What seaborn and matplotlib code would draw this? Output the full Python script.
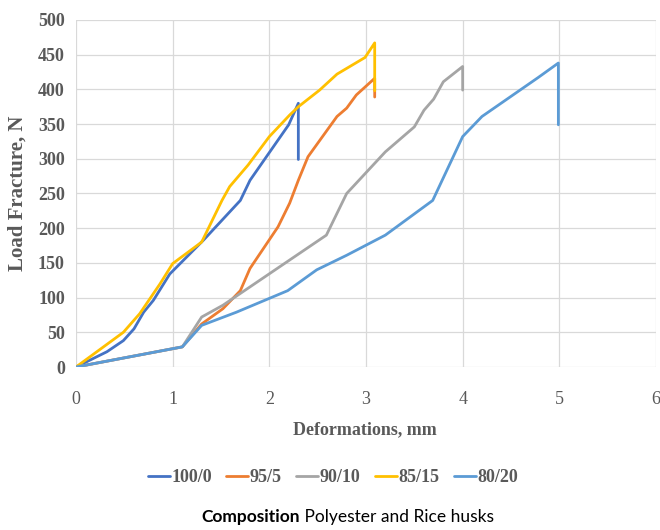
import matplotlib
matplotlib.use("Agg")
import matplotlib.pyplot as plt
import seaborn as sns
import pandas as pd
from matplotlib.lines import Line2D

# ---- data ----
series_names = ["100/0", "95/5", "90/10", "85/15", "80/20"]
colors = ["#4472C4", "#ED7D31", "#A5A5A5", "#FFC000", "#5B9BD5"]

x_100_0 = [0, 0.32, 0.49, 0.6, 0.7, 0.8, 0.97, 1.32, 1.7, 1.8, 2.2, 2.3, 2.3]
y_100_0 = [0, 22, 38, 55, 79, 96, 134, 183, 240, 269, 349, 380, 299]

x_95_5 = [0, 1.1, 1.3, 1.52, 1.7, 1.8, 2.09, 2.21, 2.3, 2.4, 2.7, 2.8, 2.9, 3.09, 3.09]
y_95_5 = [0, 29, 62, 84, 110, 142, 202, 236, 269, 303, 361, 373, 392, 416, 389]

x_90_10 = [0, 1.1, 1.3, 1.52, 2.59, 2.8, 3.2, 3.5, 3.6, 3.7, 3.8, 4.0, 4.0]
y_90_10 = [0, 29, 72, 89, 190, 250, 310, 346, 370, 386, 411, 433, 399]

x_85_15 = [0, 0.49, 0.66, 0.87, 1.0, 1.3, 1.51, 1.59, 1.78, 2.0, 2.21, 2.3, 2.52, 2.7, 2.99, 3.09, 3.09]
y_85_15 = [0, 50, 77, 120, 149, 180, 240, 260, 291, 332, 363, 375, 399, 422, 446, 467, 398]

x_80_20 = [0, 1.1, 1.3, 1.66, 2.19, 2.49, 2.8, 3.2, 3.69, 4.0, 4.2, 4.78, 4.99, 4.99]
y_80_20 = [0, 29, 60, 79, 110, 140, 161, 190, 240, 332, 361, 417, 438, 349]

x_ticks = [0, 1, 2, 3, 4, 5, 6]
y_ticks = [0, 50, 100, 150, 200, 250, 300, 350, 400, 450, 500]

xs = [x_100_0, x_95_5, x_90_10, x_85_15, x_80_20]
ys = [y_100_0, y_95_5, y_90_10, y_85_15, y_80_20]

rows = []
for name, xv, yv in zip(series_names, xs, ys):
    for i, (a, b) in enumerate(zip(xv, yv)):
        rows.append({"series": name, "order": i, "x": a, "y": b})
df = pd.DataFrame(rows)

# ---- style ----
sns.set_theme(style="white")
plt.rcParams["font.family"] = ["Liberation Serif", "DejaVu Serif"]
text_gray = "#595959"

fig = plt.figure(figsize=(6.6, 5.3), dpi=100)
ax = fig.add_axes([76 / 660, 1 - 367 / 530, (656 - 76) / 660, (367 - 20) / 530])

sns.lineplot(data=df, x="x", y="y", hue="series", hue_order=series_names,
             palette=colors, sort=False, estimator=None,
             linewidth=2.0, ax=ax, legend=False)

ax.set_xlim(0, 6)
ax.set_ylim(0, 500)
ax.set_xticks(x_ticks)
ax.set_yticks(y_ticks)
ax.grid(True, color="#D9D9D9", linewidth=0.9)
ax.set_axisbelow(True)
for s in ax.spines.values():
    s.set_visible(False)
ax.tick_params(axis="both", length=0)
ax.tick_params(axis="x", pad=17, labelsize=13, labelcolor=text_gray)
ax.tick_params(axis="y", pad=8, labelsize=13, labelcolor=text_gray)
for lbl in ax.get_yticklabels():
    lbl.set_fontweight("bold")

ax.set_xlabel("Deformations, mm", fontsize=13, fontweight="bold", color=text_gray)
ax.set_ylabel("Load Fracture, N", fontsize=15, fontweight="bold", color=text_gray)
ax.xaxis.set_label_coords((365 - 76) / 580, -(421 - 367) / 347)
ax.yaxis.set_label_coords(-(76 - 28) / 580, 0.5)

handles = [Line2D([0], [0], color=c, linewidth=2.0) for c in colors]
leg = fig.legend(handles, series_names, loc="center", bbox_to_anchor=(333 / 660, 1 - 478 / 530),
                 ncol=5, frameon=False, handlelength=1.2, handletextpad=0.1, columnspacing=0.8,
                 prop={"family": "Liberation Serif", "weight": "bold", "size": 13})
for t in leg.get_texts():
    t.set_color(text_gray)

# caption with bold first word
fig.canvas.draw()
renderer = fig.canvas.get_renderer()
cap_y = 1 - 517 / 530
t1 = fig.text(0, cap_y, "Composition", fontsize=12.5, fontweight="bold", color="black",
              family=["Lato", "DejaVu Sans"], va="center", ha="left")
t2 = fig.text(0, cap_y, " Polyester and Rice husks", fontsize=12.5, color="black",
              family=["Lato", "DejaVu Sans"], va="center", ha="left")
w1 = t1.get_window_extent(renderer).width
w2 = t2.get_window_extent(renderer).width
total = w1 + w2
start = 347.5 - total / 2
t1.set_x(start / 660)
t2.set_x((start + w1) / 660)

fig.savefig("out.png", dpi=100)
